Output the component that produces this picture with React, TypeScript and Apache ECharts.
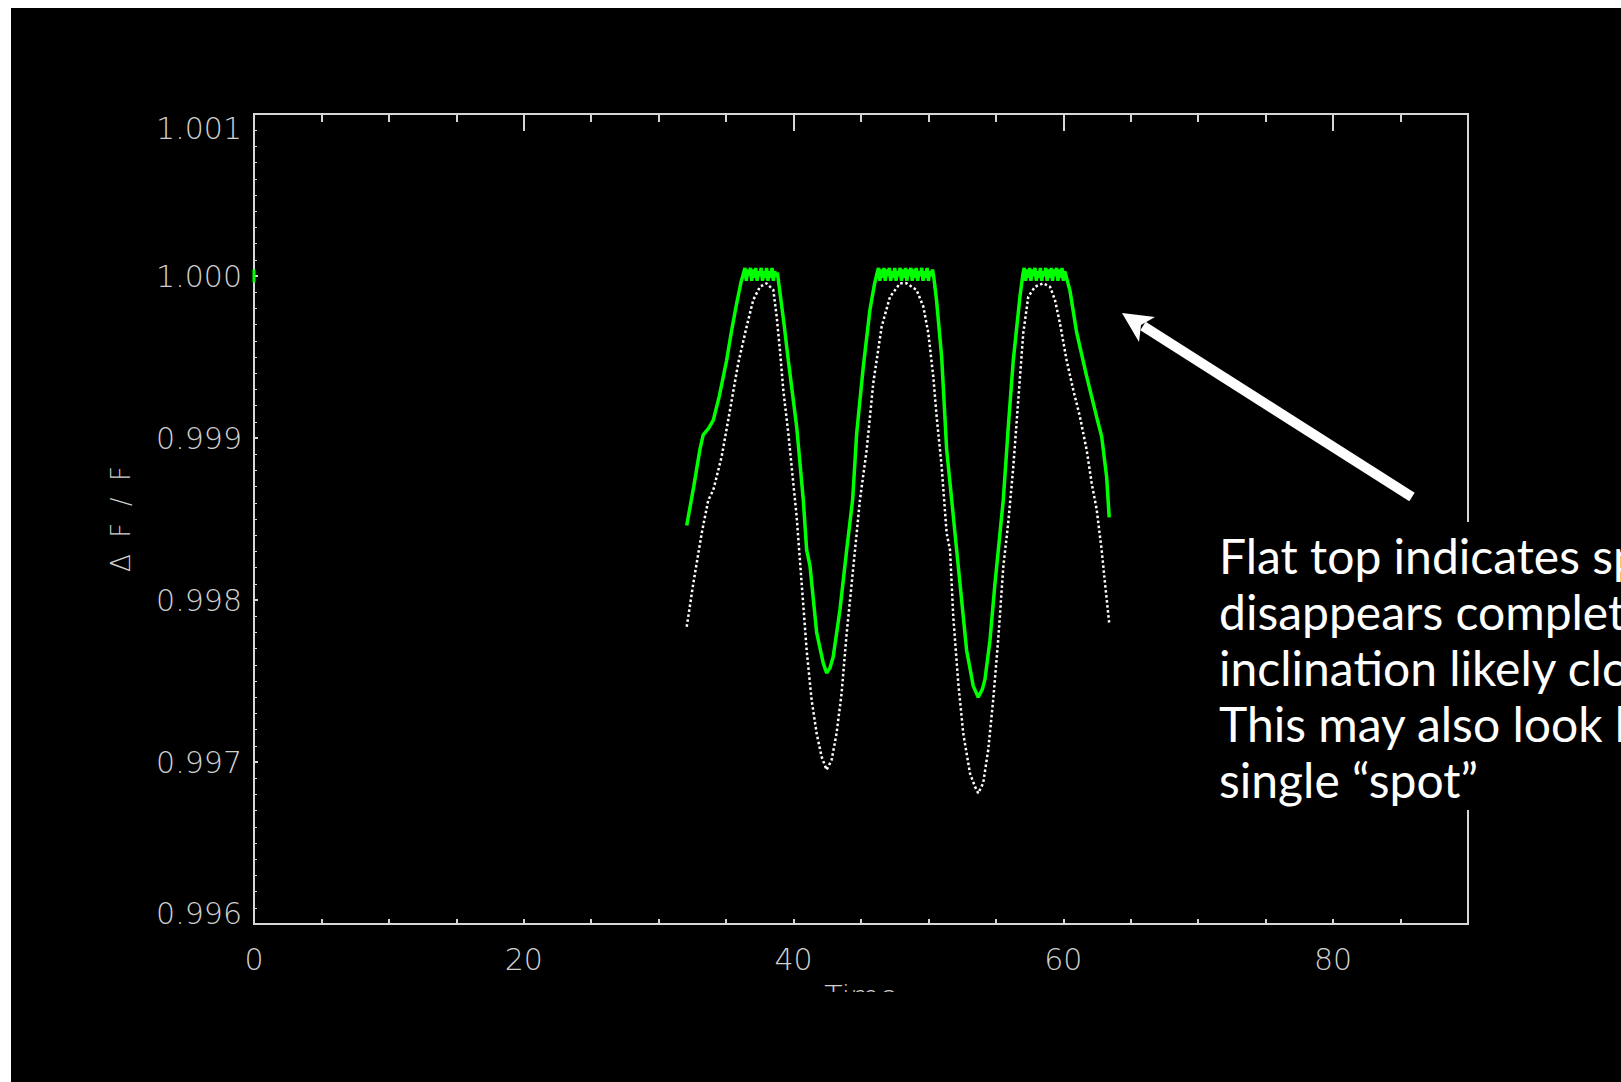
import { useRef, useEffect } from "react";
import * as echarts from "echarts";

// light curve: [time, ΔF/F]
const WHITE_TRACE: [number, number][] = [
  [32.08, 0.997835], [32.57, 0.998103], [33.19, 0.998412], [33.68, 0.998617], [34.05, 0.998679],
  [34.67, 0.998885], [35.29, 0.999173], [35.9, 0.999463], [36.52, 0.999687], [37.01, 0.999852],
  [37.51, 0.999934], [38.0, 0.999955], [38.5, 0.999914], [38.75, 0.999749], [38.99, 0.999543],
  [39.24, 0.999296], [39.61, 0.999031], [39.98, 0.998722], [40.23, 0.998514], [40.6, 0.998103],
  [40.97, 0.997691], [41.34, 0.997383], [41.71, 0.997177], [42.08, 0.997033], [42.45, 0.996951],
  [42.82, 0.997012], [43.19, 0.997177], [43.56, 0.997424], [43.94, 0.997796], [44.31, 0.998103],
  [44.68, 0.998412], [44.92, 0.998617], [45.42, 0.998926], [45.91, 0.999339], [46.53, 0.999687],
  [47.15, 0.999872], [47.89, 0.999955], [48.38, 0.999955], [49.12, 0.999914], [49.62, 0.999811],
  [49.99, 0.999648], [50.36, 0.999378], [50.61, 0.999131], [50.98, 0.998822], [51.35, 0.998412],
  [51.6, 0.998309], [51.84, 0.997897], [52.21, 0.997488], [52.58, 0.997177], [53.08, 0.99693],
  [53.45, 0.996848], [53.69, 0.996807], [54.06, 0.99687], [54.43, 0.997074], [54.8, 0.997383],
  [55.17, 0.997753], [55.55, 0.998206], [55.92, 0.99848], [56.29, 0.998822], [56.66, 0.999235],
  [57.03, 0.999648], [57.4, 0.999872], [57.9, 0.999934], [58.51, 0.999955], [59.01, 0.999934],
  [59.38, 0.999852], [59.75, 0.999708], [60.24, 0.999481], [60.74, 0.999296], [61.23, 0.999131],
  [61.73, 0.998926], [62.1, 0.998722], [62.47, 0.998560], [62.84, 0.998309], [63.09, 0.998103],
  [63.4, 0.997858],
];

const GREEN_TRACE: [number, number][] = [
  [32.08, 0.99846], [32.6, 0.9987], [33.06, 0.99893], [33.3, 0.99902], [33.7, 0.99906],
  [34.05, 0.99911], [34.5, 0.99926], [35.04, 0.99948], [35.4, 0.99966], [35.78, 0.99983],
  [36.1, 0.99996], [36.3, 1.00002],
  [36.4, 1.00005], [36.5, 0.99997], [36.6, 1.00004], [36.7, 1.0], [36.8, 1.00005], [36.9, 0.99997],
  [37.0, 1.00004], [37.1, 0.99999], [37.2, 1.00005], [37.3, 0.99997], [37.4, 1.00003], [37.5, 1.0],
  [37.6, 1.00005], [37.7, 0.99997], [37.8, 1.00003], [37.9, 0.99999], [38.0, 1.00005], [38.1, 0.99997],
  [38.2, 1.00003], [38.3, 0.99999], [38.4, 1.00005], [38.5, 0.99997], [38.6, 1.00003], [38.7, 1.0],
  [38.8, 1.00002],
  [38.99, 0.9999], [39.3, 0.9997], [39.61, 0.99948], [40.23, 0.99907], [40.72, 0.99862],
  [40.97, 0.99831], [41.22, 0.99821], [41.71, 0.9978], [42.2, 0.99761], [42.45, 0.99755],
  [42.7, 0.99758], [42.94, 0.99765], [43.44, 0.99794], [43.94, 0.99831], [44.38, 0.99862],
  [44.68, 0.99903], [45.17, 0.99944], [45.66, 0.99979], [46.0, 0.99995], [46.2, 1.00002],
  [46.3, 1.00005], [46.4, 0.99997], [46.5, 1.00004], [46.6, 0.99999], [46.7, 1.00005], [46.8, 0.99997],
  [46.9, 1.00004], [47.0, 1.0], [47.1, 1.00005], [47.2, 0.99997], [47.3, 1.00003], [47.4, 0.99999],
  [47.5, 1.00005], [47.6, 0.99997], [47.7, 1.00003], [47.8, 1.0], [47.9, 1.00005], [48.0, 0.99997],
  [48.1, 1.00004], [48.2, 0.99999], [48.3, 1.00005], [48.4, 0.99997], [48.5, 1.00004], [48.6, 1.0],
  [48.7, 1.00005], [48.8, 0.99997], [48.9, 1.00004], [49.0, 0.99999], [49.1, 1.00005], [49.2, 0.99997],
  [49.3, 1.00003], [49.4, 1.0], [49.5, 1.00005], [49.6, 0.99997], [49.7, 1.00003], [49.8, 0.99999],
  [49.9, 1.00005], [50.0, 0.99997], [50.1, 1.00003], [50.2, 1.0], [50.3, 1.00004], [50.4, 0.99999],
  [50.6, 0.99985], [50.98, 0.9995], [51.35, 0.99893], [51.84, 0.99852], [52.34, 0.9981],
  [52.83, 0.99769], [53.32, 0.99747], [53.69, 0.9974], [54.0, 0.99745], [54.19, 0.99751],
  [54.56, 0.99775], [54.93, 0.9981], [55.3, 0.99841], [55.55, 0.99862], [55.92, 0.99907],
  [56.29, 0.99948], [56.78, 0.99987], [57.0, 1.00001],
  [57.1, 1.00005], [57.2, 0.99997], [57.3, 1.00004], [57.4, 0.99999], [57.5, 1.00005], [57.6, 0.99997],
  [57.7, 1.00004], [57.8, 1.0], [57.9, 1.00005], [58.0, 0.99997], [58.1, 1.00003], [58.2, 0.99999],
  [58.3, 1.00005], [58.4, 0.99997], [58.5, 1.00003], [58.6, 1.0], [58.7, 1.00005], [58.8, 0.99997],
  [58.9, 1.00004], [59.0, 0.99999], [59.1, 1.00005], [59.2, 0.99997], [59.3, 1.00004], [59.4, 1.0],
  [59.5, 1.00005], [59.6, 0.99997], [59.7, 1.00004], [59.8, 0.99999], [59.9, 1.00005], [60.0, 0.99997],
  [60.1, 1.00003], [60.2, 1.0],
  [60.49, 0.99991], [60.99, 0.99965], [61.73, 0.99938], [62.47, 0.99913], [62.84, 0.99901],
  [63.21, 0.99876], [63.4, 0.99851],
];

// the short green mark sitting on the left axis at 1.000
const GREEN_EDGE: [number, number][] = [[0, 0.99996], [0, 1.00004]];

const X_RANGE = [0, 90];
const Y_RANGE = [0.996, 1.001];
const X_LABELS = [0, 20, 40, 60, 80];

const NOTE_LINES = [
  "Flat top indicates spot",
  "disappears completely:",
  "inclination likely close to 90°",
  "This may also look like a",
  "single “spot”",
];

const AXIS = "#d6d6d6";
const LABEL_FONT = {
  color: "#d0d0d0",
  fontFamily: "DejaVu Sans",
  fontWeight: 200 as const,
  fontSize: 30,
};

export default function App() {
  const chartRef = useRef<HTMLDivElement>(null);

  useEffect(() => {
    if (!chartRef.current) return;
    const chart = echarts.init(chartRef.current, null, { renderer: "svg" });

    const tickX = {
      type: "value" as const,
      min: X_RANGE[0],
      max: X_RANGE[1],
      interval: 5,
      splitLine: { show: false },
    };

    chart.setOption({
      animation: false,
      backgroundColor: "#000",
      grid: {
        left: 243,
        right: 153,
        top: 106,
        bottom: 158,
        show: true,
        borderColor: AXIS,
        borderWidth: 2,
      },
      xAxis: [
        {
          ...tickX,
          position: "bottom",
          name: "Time",
          nameLocation: "middle",
          nameGap: 57,
          nameTextStyle: { ...LABEL_FONT },
          axisLine: { show: true, lineStyle: { color: AXIS, width: 2 } },
          axisTick: { inside: true, length: 5, interval: 0, lineStyle: { color: AXIS, width: 2 } },
          axisLabel: {
            ...LABEL_FONT,
            margin: 20,
            interval: 0,
            showMaxLabel: true,
            formatter: (v: number) => (X_LABELS.includes(v) ? String(v) : ""),
          },
        },
        {
          ...tickX,
          position: "top",
          axisLine: { show: false },
          axisTick: { inside: true, length: 8, interval: 0, lineStyle: { color: AXIS, width: 2 } },
          axisLabel: { show: false },
        },
        {
          ...tickX,
          interval: 20,
          position: "top",
          axisLine: { show: false },
          axisTick: { inside: true, length: 17, lineStyle: { color: AXIS, width: 2 } },
          axisLabel: { show: false },
        },
      ],
      yAxis: {
        type: "value",
        min: Y_RANGE[0],
        max: Y_RANGE[1],
        interval: 0.001,
        name: "Δ  F  /  F",
        nameLocation: "middle",
        nameGap: 120,
        nameTextStyle: { ...LABEL_FONT, fontSize: 26 },
        splitLine: { show: false },
        axisLine: { show: true, lineStyle: { color: AXIS, width: 2 } },
        axisTick: { inside: true, length: 4, lineStyle: { color: AXIS, width: 2 } },
        minorTick: { show: true, splitNumber: 10, length: 3, lineStyle: { color: AXIS, width: 1 } },
        axisLabel: {
          ...LABEL_FONT,
          margin: 12,
          formatter: (v: number) => {
            const s = v.toFixed(3);
            if (s === "1.001") return "{top|" + s + "}";
            if (s === "0.996") return "{bot|" + s + "}";
            return s;
          },
          rich: {
            top: { ...LABEL_FONT, padding: [28, 0, 0, 0] },
            bot: { ...LABEL_FONT, padding: [0, 0, 22, 0] },
          },
        },
      },
      series: [
        {
          name: "model",
          type: "line",
          data: WHITE_TRACE,
          showSymbol: false,
          lineStyle: { color: "#ffffff", width: 2.5, type: "dotted" },
        },
        {
          name: "model with flat top",
          type: "line",
          data: GREEN_TRACE,
          showSymbol: false,
          lineStyle: { color: "#00ff00", width: 3.5 },
        },
        {
          name: "edge",
          type: "line",
          data: GREEN_EDGE,
          showSymbol: false,
          clip: false,
          lineStyle: { color: "#00ff00", width: 3 },
        },
      ],
      graphic: [
        // hides most of the x-axis title, as in the original slide
        { type: "rect", shape: { x: 760, y: 984, width: 220, height: 90 }, style: { fill: "#000" }, z: 100 },
        // box behind the note, cutting the right frame
        { type: "rect", shape: { x: 1195, y: 514, width: 420, height: 288 }, style: { fill: "#000" }, z: 100 },
        {
          type: "text",
          x: 1208,
          y: 519,
          z: 101,
          style: {
            text: NOTE_LINES.join("\n"),
            fill: "#ffffff",
            font: "48px Lato",
            lineHeight: 56,
            verticalAlign: "top",
            align: "left",
          },
        },
        {
          type: "line",
          z: 101,
          shape: { x1: 1401, y1: 489, x2: 1132, y2: 318 },
          style: { stroke: "#ffffff", lineWidth: 10, lineCap: "butt" },
        },
        {
          type: "polygon",
          z: 101,
          shape: { points: [[1111, 305], [1144, 309], [1130, 317], [1128, 334]] },
          style: { fill: "#ffffff" },
        },
      ],
    });

    return () => chart.dispose();
  }, []);

  return (
    <div
      ref={chartRef}
      style={{ position: "fixed", left: 11, top: 8, width: 1610, height: 1074 }}
    />
  );
}
